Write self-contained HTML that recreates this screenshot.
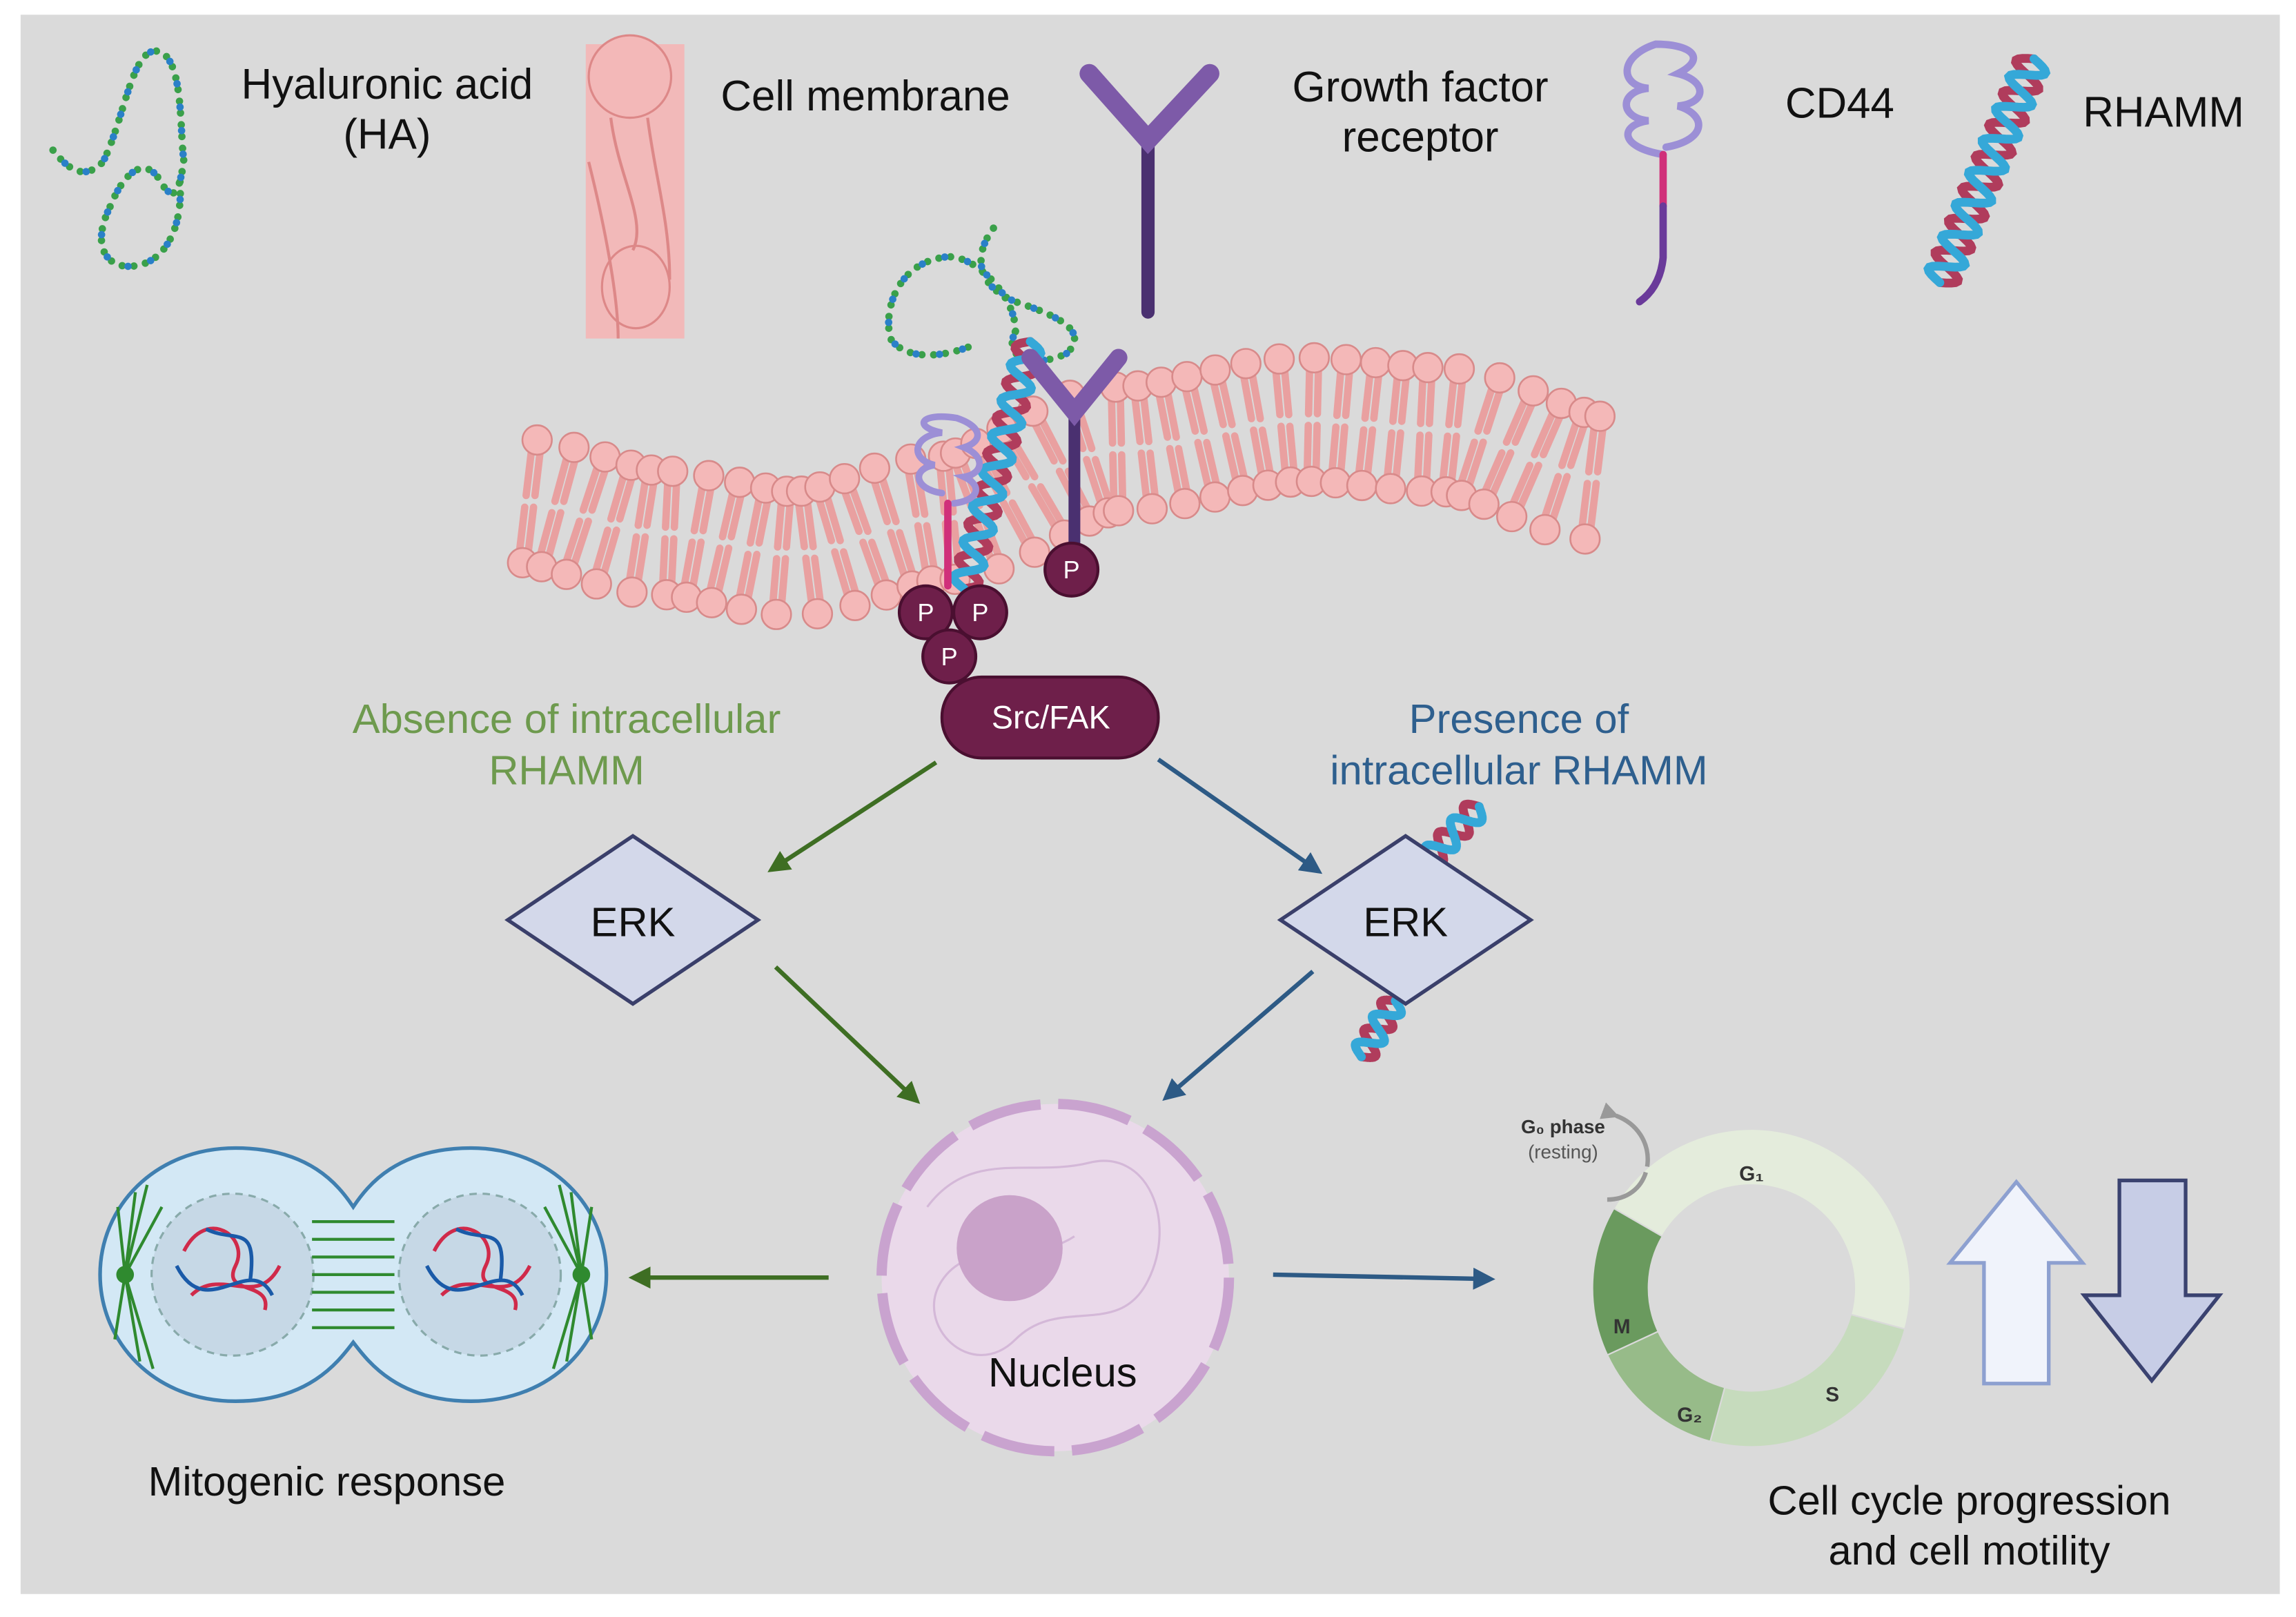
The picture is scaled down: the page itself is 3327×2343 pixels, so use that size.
<!DOCTYPE html>
<html><head><meta charset="utf-8"><style>
html,body{margin:0;padding:0;background:#fff}
svg{display:block}
text{font-family:"Liberation Sans",sans-serif}
</style></head><body>
<svg id="s" width="3327" height="2343" viewBox="0 0 1560 1098.6" xmlns="http://www.w3.org/2000/svg">
<defs>
<marker id="ag" viewBox="0 0 10 10" refX="8" refY="5" markerWidth="5" markerHeight="5" orient="auto"><path d="M0,0L10,5L0,10z" fill="#3e6e23"/></marker>
<marker id="ab" viewBox="0 0 10 10" refX="8" refY="5" markerWidth="5" markerHeight="5" orient="auto"><path d="M0,0L10,5L0,10z" fill="#2d5a85"/></marker>
<marker id="agr" viewBox="0 0 10 10" refX="8" refY="5" markerWidth="4" markerHeight="4" orient="auto"><path d="M0,0L10,5L0,10z" fill="#999"/></marker>
</defs>
<rect x="14" y="10" width="1535" height="1073" fill="#dadada"/>
<g id="mem"></g>
<g id="dyn"></g>

<!-- legend text -->
<g font-size="29" fill="#111" text-anchor="middle">
<text x="263" y="67">Hyaluronic acid</text><text x="263" y="101">(HA)</text>
<text x="588" y="75">Cell membrane</text>
<text x="965" y="69">Growth factor</text><text x="965" y="103">receptor</text>
<text x="1250" y="80">CD44</text>
<text x="1470" y="86">RHAMM</text>
</g>

<!-- membrane legend icon -->
<g>
<rect x="398" y="30" width="67" height="200" fill="#f2b9b9"/>
<ellipse cx="428" cy="52" rx="28" ry="28" fill="#f3b8b8" stroke="#d88" stroke-width="1.5"/>
<ellipse cx="432" cy="195" rx="23" ry="28" fill="#f3b8b8" stroke="#d88" stroke-width="1.5"/>
<path d="M415,80 C420,120 440,150 430,170 M440,80 C445,120 455,150 455,190 M400,110 C410,150 420,200 420,230" stroke="#d88" stroke-width="2" fill="none"/>
</g>

<!-- Y receptor legend -->
<g stroke="#4a3070" stroke-linecap="round" fill="none">
<path d="M780,95 V212" stroke-width="9"/>
<path d="M740,50 L780,95 L822,50" stroke-width="13" stroke="#7d5aa8"/>
</g>

<!-- CD44 legend -->
<g fill="none" stroke-linecap="round">
<path d="M1130,105 C1100,100 1100,85 1120,82 C1100,80 1100,62 1120,60 C1100,58 1100,38 1125,30 C1150,30 1160,40 1140,50 C1160,55 1160,70 1140,72 C1160,78 1160,95 1132,100" stroke="#9c8fd6" stroke-width="5"/>
<path d="M1130,105 V140" stroke="#d0307a" stroke-width="5"/>
<path d="M1130,140 V175 Q1128,195 1114,205" stroke="#6a3a9a" stroke-width="5"/>
</g>

<!-- membrane-bound receptor -->
<g stroke-linecap="round" fill="none">
<path d="M730,280 V372" stroke="#4a3070" stroke-width="8"/>
<path d="M700,243 L730,280 L760,243" stroke="#7d5aa8" stroke-width="12"/>
<path d="M640,335 C620,332 620,318 635,316 C618,312 620,296 640,294 C620,290 625,280 650,284 C668,290 668,300 655,304 C670,310 668,322 655,324 C668,330 665,340 648,342" stroke="#9c8fd6" stroke-width="4.5"/>
<path d="M644,342 V398" stroke="#d0307a" stroke-width="5"/>
</g>

<!-- P circles -->
<g fill="#6e1f4a" stroke="#4a0f30" stroke-width="2">
<circle cx="629" cy="416" r="18"/><circle cx="666" cy="416" r="18"/><circle cx="645" cy="446" r="18"/><circle cx="728" cy="387" r="18"/>
</g>
<g fill="#fff" font-size="17" text-anchor="middle">
<text x="629" y="422">P</text><text x="666" y="422">P</text><text x="645" y="452">P</text><text x="728" y="393">P</text>
</g>

<!-- Src/FAK -->
<rect x="640" y="460" width="147" height="55" rx="27" fill="#6e1f4a" stroke="#4a0f30" stroke-width="2"/>
<text x="714" y="495" font-size="22" fill="#fff" text-anchor="middle">Src/FAK</text>

<g font-size="28" text-anchor="middle">
<text x="385" y="498" fill="#6e9a4e">Absence of intracellular</text>
<text x="385" y="533" fill="#6e9a4e">RHAMM</text>
<text x="1032" y="498" fill="#2e5f8e">Presence of</text>
<text x="1032" y="533" fill="#2e5f8e">intracellular RHAMM</text>
</g>

<!-- arrows -->
<g stroke-width="3" fill="none">
<path d="M636,518 L524,591" stroke="#3e6e23" marker-end="url(#ag)"/>
<path d="M527,657 L623,748" stroke="#3e6e23" marker-end="url(#ag)"/>
<path d="M563,868 L430,868" stroke="#3e6e23" marker-end="url(#ag)"/>
<path d="M787,516 L896,592" stroke="#2d5a85" marker-end="url(#ab)"/>
<path d="M892,660 L792,746" stroke="#2d5a85" marker-end="url(#ab)"/>
<path d="M865,866 L1013,869" stroke="#2d5a85" marker-end="url(#ab)"/>
</g>

<!-- ERK -->
<g fill="#d3d8ea" stroke="#3a3f6a" stroke-width="2.5">
<path d="M345,625 L430,568 L515,625 L430,682z"/>
<path d="M870,625 L955,568 L1040,625 L955,682z"/>
</g>
<g font-size="28" text-anchor="middle" fill="#111"><text x="430" y="636">ERK</text><text x="955" y="636">ERK</text></g>

<!-- Nucleus -->
<circle cx="717" cy="868" r="118" fill="#ead9ea"/>
<circle cx="717" cy="868" r="118" fill="none" stroke="#c9a3cf" stroke-width="7" stroke-dasharray="50 12"/>
<path d="M630,820 C660,780 700,800 740,790 C780,780 800,830 780,870 C760,910 720,880 690,910 C660,940 620,900 640,870 C660,840 700,860 730,840" fill="none" stroke="#d4b8d8" stroke-width="1.5"/>
<circle cx="686" cy="848" r="36" fill="#c9a2c9"/>
<text x="722" y="942" font-size="28" text-anchor="middle" fill="#111">Nucleus</text>

<!-- dividing cell -->
<g>
<path d="M160,780 C210,780 230,805 240,820 C250,805 270,780 320,780 C375,780 412,820 412,866 C412,912 375,952 320,952 C270,952 250,925 240,912 C230,925 210,952 160,952 C105,952 68,912 68,866 C68,820 105,780 160,780z" fill="#d3e8f5" stroke="#3f7fb0" stroke-width="2.5"/>
<circle cx="158" cy="866" r="55" fill="#c6d8e6" stroke="#8aa" stroke-width="1.5" stroke-dasharray="5 4"/>
<circle cx="326" cy="866" r="55" fill="#c6d8e6" stroke="#8aa" stroke-width="1.5" stroke-dasharray="5 4"/>
<g stroke="#2f8a2f" stroke-width="2" fill="none">
<path d="M212,830 H268 M212,842 H268 M212,854 H268 M212,866 H268 M212,878 H268 M212,890 H268 M212,902 H268"/>
<path d="M85,866 L100,805 M85,866 L92,810 M85,866 L80,820 M85,866 L78,910 M85,866 L95,925 M85,866 L104,930 M85,866 L110,820"/>
<path d="M395,866 L380,805 M395,866 L388,810 M395,866 L402,820 M395,866 L402,910 M395,866 L385,925 M395,866 L376,930 M395,866 L370,820"/>
</g>
<circle cx="85" cy="866" r="6" fill="#2f8a2f"/><circle cx="395" cy="866" r="6" fill="#2f8a2f"/>
<path d="M125,850 C140,820 170,840 160,860 C150,880 185,870 180,890 M130,880 C150,860 175,890 190,860" stroke="#d02a4a" stroke-width="2.5" fill="none"/>
<path d="M120,860 C140,900 170,850 185,880 M140,835 C160,845 175,830 170,870" stroke="#1a5aa8" stroke-width="2.5" fill="none"/>
<path d="M295,850 C310,820 340,840 330,860 C320,880 355,870 350,890 M300,880 C320,860 345,890 360,860" stroke="#d02a4a" stroke-width="2.5" fill="none"/>
<path d="M290,860 C310,900 340,850 355,880 M310,835 C330,845 345,830 340,870" stroke="#1a5aa8" stroke-width="2.5" fill="none"/>
</g>
<text x="222" y="1016" font-size="28" text-anchor="middle" fill="#111">Mitogenic response</text>

<!-- cell cycle -->
<g id="cc"></g>
<g font-size="14" font-weight="bold" fill="#333" text-anchor="middle">
<text x="1190" y="802">G₁</text><text x="1245" y="952">S</text><text x="1148" y="966">G₂</text><text x="1102" y="906">M</text>
</g>
<text x="1062" y="770" font-size="13" font-weight="bold" text-anchor="middle" fill="#333">G₀ phase</text>
<text x="1062" y="787" font-size="13" text-anchor="middle" fill="#555">(resting)</text>
<path d="M1098,758 C1130,770 1125,815 1092,815" fill="none" stroke="#999" stroke-width="3" stroke-dasharray="40 0 4 4" marker-start="url(#agr)"/>

<!-- up/down arrows -->
<path d="M1370,803 L1415,858 L1392,858 L1392,940 L1348,940 L1348,858 L1325,858z" fill="#f0f3fb" stroke="#8da0d0" stroke-width="2.5"/>
<path d="M1440,802 L1485,802 L1485,880 L1508,880 L1462,938 L1416,880 L1440,880z" fill="#c7cde6" stroke="#3a4270" stroke-width="2.5"/>
<g font-size="28" text-anchor="middle" fill="#111">
<text x="1338" y="1029">Cell cycle progression</text><text x="1338" y="1063">and cell motility</text>
</g>
</svg>
<script>
var NS="http://www.w3.org/2000/svg";
function el(p,t,a){var e=document.createElementNS(NS,t);for(var k in a)e.setAttribute(k,a[k]);p.appendChild(e);return e;}
var dyn=document.getElementById('dyn'),mem=document.getElementById('mem'),cc=document.getElementById('cc');
function cy(x){
  var pts=[[350,340],[450,362],[540,376],[640,352],[760,305],[887,285],[980,292],[1090,325]];
  for(var i=0;i<pts.length-1;i++){if(x<=pts[i+1][0]){var t=(x-pts[i][0])/(pts[i+1][0]-pts[i][0]);t=t*t*(3-2*t);return pts[i][1]+t*(pts[i+1][1]-pts[i][1]);}}
  return pts[pts.length-1][1];}
for(var x=360;x<=1085;x+=19){
  var c=cy(x),d=(cy(x+2)-cy(x-2))/4,n=Math.sqrt(1+d*d),nx=-d/n,ny=1/n;
  var h=42;
  [[-1],[1]].forEach(function(s){var sg=s[0];
    var hx=x+nx*h*sg,hy=c+ny*h*sg;
    el(mem,'path',{d:'M'+(hx-nx*sg*8-3)+','+(hy-ny*sg*8)+' L'+(x+nx*sg*4-3)+','+(c+ny*sg*4)+' M'+(hx-nx*sg*8+3)+','+(hy-ny*sg*8)+' L'+(x+nx*sg*4+3)+','+(c+ny*sg*4),stroke:'#e9a0a0','stroke-width':5,'stroke-linecap':'round'});
    el(mem,'circle',{cx:hx,cy:hy,r:10,fill:'#f4b8b8',stroke:'#d88a8a','stroke-width':1.2});
  });
}
function ha(d){el(dyn,'path',{d:d,fill:'none',stroke:'#3aa04a','stroke-width':5,'stroke-linecap':'round','stroke-dasharray':'0 8'});
 el(dyn,'path',{d:d,fill:'none',stroke:'#2a80c8','stroke-width':5,'stroke-linecap':'round','stroke-dasharray':'0 16','stroke-dashoffset':4});}
ha('M36,102 C50,120 60,120 70,110 C85,80 90,30 108,35 C125,40 122,90 125,110 C122,125 120,140 110,125 C100,105 85,115 75,140 C60,170 75,185 95,180 C115,175 125,150 122,120');
ha('M675,155 C660,175 665,195 690,205 C720,215 740,225 725,240 C705,250 680,245 690,225 M690,225 C690,200 660,170 640,175 C610,180 600,210 605,230 C615,245 640,243 660,235');
function helix(x1,y1,x2,y2,turns,amp){
  var dx=x2-x1,dy=y2-y1,L=Math.sqrt(dx*dx+dy*dy),ux=dx/L,uy=dy/L,px=-uy,py=ux;
  ['#b03c5c','#35a8d8'].forEach(function(col,k){
    var d='';for(var i=0;i<=120;i++){var t=i/120,a=Math.sin(t*turns*2*Math.PI+k*Math.PI)*amp;
      var X=x1+dx*t+px*a,Y=y1+dy*t+py*a;d+=(i?'L':'M')+X.toFixed(1)+','+Y.toFixed(1);}
    el(dyn,'path',{d:d,fill:'none',stroke:col,'stroke-width':6,'stroke-linecap':'round'});});
}
helix(1318,192,1382,40,7,11);
helix(655,400,700,232,7,9);
helix(970,585,1005,548,2,8);
helix(925,718,948,680,2,8);
var cx=1190,cY=875,R=108,r=70;
function arc(a1,a2,col){var f=function(a,rr){var t=(a-90)*Math.PI/180;return (cx+rr*Math.cos(t)).toFixed(1)+','+(cY+rr*Math.sin(t)).toFixed(1);};
 var lg=(a2-a1)>180?1:0;
 el(cc,'path',{d:'M'+f(a1,R)+' A'+R+','+R+' 0 '+lg+' 1 '+f(a2,R)+' L'+f(a2,r)+' A'+r+','+r+' 0 '+lg+' 0 '+f(a1,r)+'z',fill:col,stroke:'#dadada','stroke-width':1});}
arc(-60,105,'#e4ecdc');arc(105,195,'#c6dbbd');arc(195,245,'#97bb89');arc(245,300,'#6a9a5e');
</script>
</body></html>
